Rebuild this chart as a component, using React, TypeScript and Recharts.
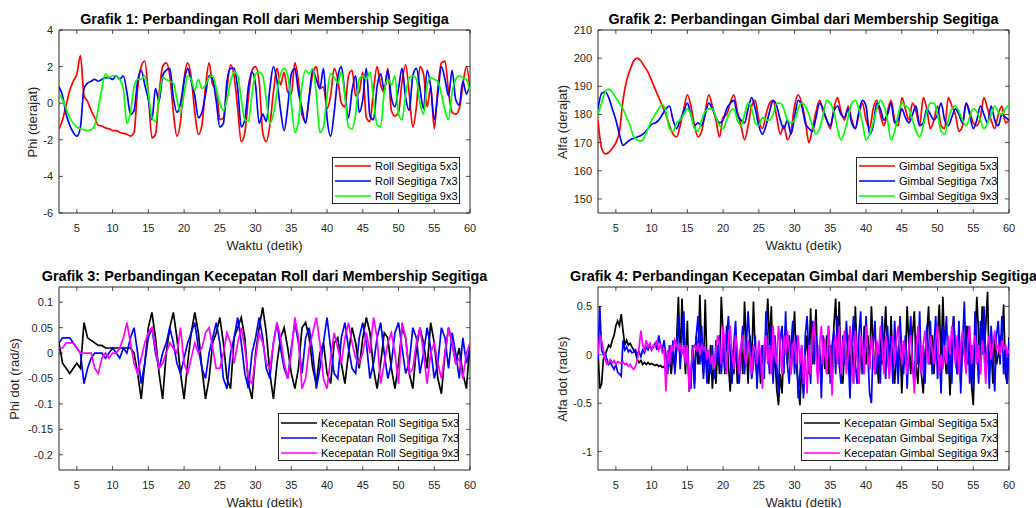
import { LineChart, Line, XAxis, YAxis, ReferenceArea } from "recharts"

// sample grids: 0.5 s for the angle / roll-rate logs, 0.25 s for the gimbal-rate log
const T_START = 2.5
const STEP_A = 0.5
const STEP_B = 0.25
const timeA = Array.from({ length: 116 }, (_, i) => T_START + i * STEP_A)
const timeB = Array.from({ length: 231 }, (_, i) => T_START + i * STEP_B)

const X_TICKS = [5, 10, 15, 20, 25, 30, 35, 40, 45, 50, 55, 60]
const ROLL_TICKS = [-6, -4, -2, 0, 2, 4]
const GIMBAL_TICKS = [150, 160, 170, 180, 190, 200, 210]
const ROLL_RATE_TICKS = [-0.2, -0.15, -0.1, -0.05, 0, 0.05, 0.1]
const GIMBAL_RATE_TICKS = [-1, -0.5, 0, 0.5]

// Grafik 1: roll (derajat)
const roll5x3 = [
  -1.4, -0.9, -0.1, 0.7, 1.2, 1.6, 2.6, 0.4, 0.1, -0.4,
  -0.8, -1.2, -1.25, -1.35, -1.4, -1.5, -1.5, -1.6, -1.65, -1.7,
  -1.8, -1.6, 0.8, 2.0, 2.3, 0.5, -1.9, -1.7, 0.5, 2.0,
  2.2, 1.5, -0.5, -1.8, -1.0, 1.3, 2.2, 1.4, -0.5, -1.7,
  -1.2, 0.9, 2.2, 1.0, 0.8, -0.9, -0.8, 0.8, 2.1, 1.5,
  -0.3, -2.1, -1.6, 0.3, 1.8, 2.0, 1.2, -1.6, -2.1, -1.2,
  0.6, 1.9, 1.0, 1.7, 0.6, 0.5, 2.2, 1.2, -0.6, -1.0,
  0.3, 1.6, 2.0, 0.8, 0.9, -0.3, 0.4, 1.9, 1.3, 0.0,
  -0.2, 1.5, 1.8, 0.4, 0.6, 1.7, -0.8, -1.0, 0.7, 2.0,
  1.0, 0.6, 1.9, -0.4, -0.7, -0.5, 1.2, 2.1, 0.5, -1.3,
  -0.2, 2.0, 1.6, -0.2, 0.9, -1.4, 0.8, 2.2, 2.3, 0.6,
  -0.5, -0.6, -0.3, 1.0, 2.0, 0.8,
]
const roll7x3 = [
  0.9, 0.4, -0.6, -1.2, -1.6, -1.8, -1.3, 0.8, 1.1, 1.2,
  1.3, 1.2, 1.3, 1.4, 1.4, 1.3, 1.5, 1.3, 1.5, 0.6,
  -0.6, -0.4, 1.2, 1.8, 1.0, 0.2, -0.9, 0.8, 0.1, 1.5,
  1.8, 1.9, 0.3, -0.5, 0.0, 1.2, 1.9, 1.2, 0.4, -0.8,
  -0.5, 0.5, 1.5, 1.3, 0.1, -1.3, -1.1, 1.2, 1.9, 1.9,
  0.8, -1.3, -0.9, 0.9, 1.7, 1.0, -1.1, -0.6, -1.0, 0.8,
  2.0, 1.2, -0.4, -1.5, -0.2, 1.6, 1.9, 0.6, -0.3, -1.1,
  0.4, 1.8, 1.3, 0.8, 1.9, -0.8, -1.8, -0.5, 1.4, 2.0,
  0.5, -0.8, 0.7, 1.5, -0.5, 0.2, 1.9, -0.7, -0.9, 0.9,
  1.6, 0.7, 1.8, 0.3, -0.2, 0.8, 1.9, 0.3, -0.4, 1.5,
  1.9, 0.8, -0.3, 1.8, 0.9, -0.9, 0.5, 2.0, 1.3, 0.4,
  1.8, 0.2, -0.1, 1.2, 0.5, 1.1,
]
const roll9x3 = [
  0.5, 0.2, -0.3, -0.8, -1.1, -1.3, -1.4, -1.45, -1.5, -1.45,
  -1.2, -0.3, 0.8, 1.6, 1.4, 1.5, 1.5, 1.3, 0.8, -1.1,
  -0.5, 0.9, 1.3, 1.3, 1.5, 0.5, -0.8, -1.0, 0.3, 1.4,
  1.3, 1.2, 1.1, 0.2, -0.5, 0.5, 1.5, 1.3, 0.7, 1.3,
  0.8, 1.0, 1.4, 1.5, 0.8, 0.0, -0.4, 0.2, 1.2, 1.7,
  1.5, 0.2, -0.9, -1.0, 0.5, 1.6, 1.7, 1.5, 0.2, -1.1,
  -0.6, 0.6, 1.6, 1.9, 1.5, 0.0, -1.6, -1.0, 1.0, 1.8,
  1.6, 1.9, 0.5, -1.6, -1.3, 0.4, 1.6, 1.4, 1.1, 1.7,
  0.4, -1.3, -1.4, -0.6, 1.3, 1.5, 1.3, 1.7, 0.2, -1.2,
  -1.3, 0.6, 1.3, 1.0, 1.5, -0.6, -0.9, 0.5, 1.4, 1.5,
  1.3, 0.0, -0.6, 1.0, 1.4, 1.3, 1.2, 0.5, -0.4, -0.9,
  0.6, 1.3, 1.5, 1.4, 1.3, 0.6,
]

// Grafik 2: gimbal (derajat)
const gimbal5x3 = [
  178, 168, 166, 166.5, 168, 170, 174, 185, 192, 196,
  199, 200, 199, 197, 195, 192, 189, 186, 183, 180,
  176, 173, 172, 176, 182, 187, 183, 176, 172, 174,
  181, 187, 183, 178, 172, 179, 180, 184, 187, 181,
  176, 171, 176, 183, 185, 178, 175, 180, 184, 185,
  179, 173, 176, 171, 174, 183, 187, 184, 178, 170,
  175, 181, 185, 181, 178, 175, 182, 186, 181, 178,
  183, 178, 175, 180, 184, 178, 175, 182, 185, 180,
  176, 181, 185, 178, 176, 186, 182, 178, 184, 181,
  176, 186, 182, 175, 178, 183, 176, 175, 186, 183,
  180, 174, 176, 184, 181, 177, 176, 179, 186, 182,
  178, 175, 180, 183, 177, 178,
]
const gimbal7x3 = [
  182, 187.5, 188, 186, 182, 178, 173, 169, 170, 171,
  171.5, 172, 172.5, 173.5, 175, 176.5, 177, 178, 180, 182,
  183, 178, 175, 178, 181, 184, 180, 176, 177, 176,
  180, 184, 182, 179, 177, 178, 182, 184, 185, 180,
  178, 177, 182, 186, 182, 176, 173, 176, 181, 185,
  183, 178, 175, 178, 173, 179, 185, 183, 177, 175,
  174, 179, 184, 182, 178, 176, 181, 183, 180, 179,
  182, 177, 175, 181, 185, 183, 173, 176, 184, 182,
  178, 180, 184, 177, 178, 182, 179, 177, 180, 183,
  176, 177, 182, 180, 178, 180, 184, 178, 176, 179,
  182, 180, 177, 184, 180, 175, 178, 183, 180, 177,
  183, 178, 176, 180, 179, 178,
]
const gimbal9x3 = [
  180, 184, 188, 189, 188, 186, 184, 182, 179, 176,
  172, 171, 170.5, 172, 175, 178, 180, 182, 183.5, 181,
  175, 174, 177, 178, 180, 182, 180, 175, 174, 178,
  181, 182, 182, 179, 176, 175, 178, 181, 182, 178,
  176, 180, 184, 182, 177, 176, 179, 178, 178, 180,
  184, 184, 182, 178, 177, 178, 182, 184, 183, 180,
  176, 173, 175, 180, 185, 184, 181, 175, 171, 174,
  179, 184, 185, 182, 177, 171, 173, 177, 182, 185,
  183, 178, 171, 174, 180, 184, 183, 182, 178, 174,
  172, 176, 181, 184, 184, 180, 174, 173, 178, 182,
  183, 181, 178, 176, 179, 182, 181, 178, 175, 177,
  180, 183, 181, 180, 182, 183.5,
]

// Grafik 3: kecepatan roll (rad/s)
const rollRate5x3 = [
  0.02, -0.02, -0.03, -0.04, -0.03, -0.02, -0.03, 0.06, 0.03, 0.025,
  0.02, 0.015, 0.015, 0.01, 0.01, 0.01, 0.01, 0.01, 0.01, 0.01,
  0.01, 0.0, -0.04, -0.09, -0.02, 0.05, 0.08, 0.03, -0.04, -0.09,
  0.0, 0.05, 0.08, 0.03, -0.04, -0.09, -0.02, 0.04, 0.08, 0.04,
  -0.03, -0.09, -0.05, 0.02, 0.04, 0.07, 0.02, -0.05, -0.07, 0.03,
  0.05, 0.07, 0.03, -0.06, -0.09, 0.0, 0.05, 0.09, 0.04, -0.04,
  -0.09, -0.02, 0.03, 0.05, 0.01, -0.04, -0.07, -0.03, 0.05, 0.06,
  0.03, -0.03, -0.06, 0.0, 0.02, -0.04, -0.06, 0.02, 0.03, -0.02,
  -0.06, 0.0, 0.05, 0.02, -0.03, 0.03, 0.07, 0.04, -0.03, -0.07,
  -0.02, 0.04, 0.03, -0.03, -0.07, -0.02, 0.05, 0.03, -0.04, -0.07,
  0.01, 0.05, 0.02, -0.03, 0.06, 0.02, -0.05, -0.08, 0.0, 0.05,
  0.02, -0.02, 0.01, -0.04, -0.07, 0.02,
]
const rollRate7x3 = [
  0.02, 0.03, 0.03, 0.03, 0.02, 0.01, 0.0, -0.06, -0.03, -0.01,
  0.0, 0.0, 0.0, -0.01, 0.0, 0.01, 0.0, -0.01, 0.01, 0.0,
  0.03, 0.05, 0.0, -0.06, -0.02, 0.03, 0.05, 0.0, -0.03, 0.0,
  0.02, 0.05, 0.02, -0.02, -0.04, -0.01, 0.02, 0.04, 0.06, 0.01,
  -0.03, -0.05, 0.0, 0.03, 0.06, 0.02, -0.05, -0.07, 0.0, 0.03,
  0.07, 0.02, -0.04, -0.07, 0.0, 0.03, 0.07, 0.03, -0.03, -0.05,
  0.02, 0.06, 0.01, -0.03, -0.05, 0.01, 0.06, 0.02, -0.04, 0.03,
  0.05, 0.0, -0.07, -0.03, 0.02, 0.07, 0.01, -0.04, -0.05, 0.03,
  0.06, 0.01, -0.03, -0.04, 0.03, 0.06, 0.02, -0.05, -0.02, 0.03,
  0.06, 0.0, -0.05, -0.02, 0.04, 0.06, 0.01, -0.04, -0.02, 0.05,
  0.03, -0.04, 0.0, 0.05, 0.01, -0.05, -0.02, 0.05, 0.03, -0.03,
  0.04, 0.0, -0.05, 0.03, -0.02, 0.01,
]
const rollRate9x3 = [
  0.01, 0.01, 0.02, 0.02, 0.02, 0.01, 0.0, 0.0, 0.0, 0.0,
  -0.03, -0.04, -0.01, 0.0, -0.01, 0.0, 0.0, 0.01, 0.03, 0.06,
  0.02, -0.02, -0.04, -0.01, 0.02, 0.04, 0.05, 0.01, -0.03, -0.02,
  0.0, 0.02, 0.01, 0.0, 0.05, -0.02, -0.04, -0.01, 0.02, 0.0,
  0.01, 0.04, 0.05, 0.01, -0.03, -0.03, 0.0, 0.04, 0.02, -0.02,
  0.02, 0.05, 0.01, -0.05, -0.06, -0.01, 0.04, 0.02, -0.02, -0.03,
  0.02, 0.06, 0.03, -0.02, -0.05, 0.0, 0.07, 0.03, -0.07, -0.05,
  0.01, 0.04, 0.07, 0.02, -0.05, -0.07, -0.01, 0.04, 0.01, -0.02,
  0.03, 0.06, 0.02, -0.01, -0.02, 0.0, 0.04, 0.0, 0.07, 0.03,
  -0.06, -0.02, 0.02, 0.04, 0.0, -0.06, 0.06, 0.03, -0.04, -0.03,
  0.02, 0.05, 0.0, -0.06, 0.0, 0.02, -0.02, -0.05, 0.0, 0.05,
  0.02, -0.02, -0.01, -0.05, 0.0, 0.02,
]

// Grafik 4: kecepatan gimbal (rad/s), 8 samples per row = 2 s
const gimbalRate5x3 = [
  0.05, -0.35, -0.3, -0.05, 0.0, 0.05, 0.1, 0.08,
  0.15, 0.2, 0.3, 0.35, 0.3, 0.42, 0.25, 0.1,
  0.15, 0.1, 0.12, 0.08, 0.05, 0.02, -0.05, -0.08,
  -0.06, -0.1, -0.08, -0.1, -0.08, -0.1, -0.09, -0.1,
  -0.11, -0.1, -0.12, -0.11, -0.13, -0.12, -0.15, -0.1,
  -0.05, -0.2, 0.05, -0.15, 0.15, 0.6, -0.1, 0.58,
  0.1, -0.2, 0.35, -0.38, -0.2, 0.1, -0.3, 0.2,
  -0.1, 0.62, 0.0, -0.2, 0.57, -0.1, -0.3, 0.1,
  -0.35, -0.05, -0.3, 0.1, -0.2, 0.6, 0.2, -0.2,
  0.3, -0.1, -0.38, 0.05, -0.2, 0.15, -0.3, -0.1,
  0.1, -0.2, 0.55, 0.1, -0.3, 0.2, -0.1, 0.55,
  0.0, -0.25, 0.05, -0.3, 0.1, -0.1, 0.2, 0.58,
  0.1, 0.5, -0.2, 0.0, -0.35, -0.52, -0.2, -0.4,
  0.1, 0.3, -0.1, 0.2, -0.2, 0.1, 0.45, -0.1,
  -0.3, -0.52, -0.1, -0.4, 0.0, 0.2, -0.2, 0.48,
  -0.1, 0.1, 0.47, -0.2, 0.0, -0.3, 0.1, -0.15,
  0.2, -0.2, 0.1, -0.3, 0.3, 0.58, 0.0, 0.55,
  -0.2, -0.3, 0.05, -0.1, 0.2, -0.2, 0.1, -0.3,
  0.5, 0.0, -0.3, 0.1, -0.2, 0.3, -0.1, 0.2,
  -0.15, 0.5, 0.1, -0.2, 0.05, -0.3, 0.2, -0.1,
  0.1, 0.5, 0.0, -0.2, 0.4, -0.1, -0.3, 0.1,
  -0.2, 0.2, -0.4, 0.05, -0.1, 0.5, 0.1, -0.2,
  0.2, 0.45, -0.1, -0.3, 0.1, -0.2, -0.4, 0.0,
  0.2, 0.5, -0.1, 0.2, -0.2, 0.1, 0.2, 0.52,
  -0.1, 0.6, 0.0, -0.2, 0.1, -0.42, 0.1, 0.4,
  0.0, -0.2, 0.1, -0.3, 0.2, 0.0, 0.3, -0.1,
  0.2, -0.3, -0.52, 0.1, 0.6, 0.2, -0.2, 0.5,
  0.0, 0.3, 0.65, -0.2, 0.1, -0.3, 0.2, -0.1,
  0.0, 0.2, 0.1, 0.52, -0.2, -0.3, 0.18,
]
const gimbalRate7x3 = [
  -0.05, 0.5, 0.05, 0.0, 0.02, -0.05, -0.1, -0.08,
  -0.12, -0.15, -0.1, -0.18, -0.2, -0.22, 0.15, 0.05,
  0.08, 0.03, 0.05, 0.02, 0.03, 0.05, 0.0, 0.03,
  -0.02, 0.05, 0.02, 0.08, 0.05, 0.1, 0.05, 0.08,
  0.12, 0.05, 0.2, 0.1, 0.05, 0.15, 0.0, -0.2,
  0.1, -0.1, 0.15, -0.2, 0.05, 0.4, -0.15, 0.2,
  0.45, -0.1, 0.1, -0.3, -0.35, 0.1, -0.35, 0.2,
  0.4, -0.1, 0.3, -0.25, 0.1, -0.3, 0.05, -0.2,
  0.1, -0.25, 0.15, -0.1, 0.2, -0.2, 0.1, -0.15,
  0.2, 0.4, 0.0, -0.3, 0.1, 0.35, -0.1, -0.3,
  0.05, 0.3, -0.2, 0.1, 0.45, 0.1, -0.25, -0.1,
  0.2, -0.35, 0.05, -0.2, 0.1, -0.25, 0.45, 0.1,
  -0.2, 0.3, -0.3, 0.2, -0.1, -0.4, 0.15, 0.3,
  -0.2, 0.45, -0.1, -0.3, 0.1, 0.35, -0.2, 0.2,
  -0.45, -0.2, 0.1, -0.45, 0.2, 0.4, 0.0, -0.3,
  0.35, -0.1, 0.2, -0.2, 0.1, -0.45, 0.2, 0.1,
  -0.2, 0.3, -0.3, 0.1, 0.25, -0.2, 0.4, -0.1,
  -0.3, 0.2, -0.1, 0.35, 0.0, -0.45, 0.1, 0.4,
  -0.1, -0.3, 0.2, 0.45, -0.2, -0.1, 0.4, 0.0,
  -0.4, -0.5, 0.1, 0.35, -0.2, 0.1, -0.3, 0.4,
  0.0, -0.25, 0.3, -0.1, 0.2, -0.3, 0.35, 0.0,
  -0.3, 0.4, 0.05, -0.2, 0.2, -0.35, 0.1, 0.4,
  -0.1, -0.3, 0.2, -0.1, 0.45, -0.2, 0.1, -0.3,
  0.3, -0.1, 0.35, -0.2, 0.1, 0.4, -0.25, 0.0,
  -0.4, 0.3, 0.1, 0.4, -0.2, 0.1, -0.3, 0.4,
  0.0, -0.2, 0.35, -0.4, 0.1, 0.55, -0.1, 0.3,
  -0.3, 0.1, -0.35, 0.45, 0.1, -0.3, 0.35, 0.0,
  0.5, -0.2, 0.1, -0.35, 0.3, 0.0, -0.38, 0.2,
  0.35, -0.1, 0.4, -0.2, 0.1, -0.3, 0.15,
]
const gimbalRate9x3 = [
  0.0, 0.2, 0.15, 0.05, -0.05, -0.1, -0.08, -0.05,
  -0.08, -0.06, -0.1, -0.07, -0.08, -0.09, -0.07, -0.1,
  -0.09, -0.12, -0.1, -0.13, -0.15, -0.12, -0.05, 0.08,
  0.25, 0.1, 0.05, 0.15, 0.08, 0.12, 0.05, 0.1,
  0.08, 0.15, 0.05, 0.1, 0.02, 0.05, -0.38, 0.05,
  -0.1, 0.1, 0.05, 0.15, 0.1, 0.05, 0.12, 0.0,
  0.1, -0.1, 0.1, -0.38, -0.15, 0.05, 0.1, 0.05,
  0.12, 0.0, 0.1, 0.05, 0.08, -0.05, 0.05, -0.1,
  0.0, -0.15, 0.05, 0.2, 0.1, -0.1, 0.3, 0.1,
  -0.2, 0.15, 0.3, 0.0, -0.15, 0.2, 0.05, -0.2,
  0.1, 0.2, 0.0, -0.1, 0.15, 0.0, -0.2, 0.1,
  0.05, -0.1, 0.15, 0.0, -0.35, 0.1, 0.2, -0.1,
  0.1, -0.2, 0.3, 0.0, -0.1, 0.3, 0.1, -0.2,
  0.2, 0.0, 0.25, 0.05, -0.2, 0.1, 0.15, -0.1,
  0.2, -0.1, 0.1, -0.3, 0.0, -0.4, 0.1, -0.2,
  0.2, 0.35, 0.0, -0.3, 0.1, 0.3, -0.1, 0.15,
  -0.2, 0.3, 0.0, -0.42, 0.1, 0.2, -0.1, 0.3,
  -0.2, 0.1, 0.25, -0.2, 0.0, 0.3, -0.1, -0.3,
  0.25, 0.0, -0.3, 0.2, 0.1, -0.2, 0.3, 0.0,
  -0.15, 0.2, 0.0, -0.2, 0.15, 0.0, 0.3, 0.1,
  -0.2, 0.2, 0.05, -0.25, 0.0, 0.2, -0.1, 0.15,
  0.3, 0.1, -0.1, 0.15, 0.0, -0.2, 0.1, 0.2,
  -0.1, -0.4, 0.0, 0.3, 0.1, -0.2, 0.1, 0.25,
  0.0, -0.1, 0.2, 0.05, -0.1, 0.15, 0.3, -0.2,
  0.0, -0.15, 0.1, -0.1, 0.2, 0.0, 0.3, 0.1,
  -0.1, 0.2, -0.2, 0.1, 0.25, 0.0, -0.2, 0.15,
  0.3, -0.1, 0.1, 0.2, -0.1, 0.1, -0.2, 0.15,
  0.0, -0.3, 0.1, 0.2, -0.05, 0.1, 0.25, 0.05,
  0.1, 0.0, 0.15, 0.05, 0.1, 0.0, 0.05,
]

const FONT = "Arial, 'Liberation Sans', Helvetica, sans-serif"
const AX = "#262626"

// every panel shares the same frame; the plot box sits at (59, 30), 411 x 183
const W = 518
const H = 254
const PX = 59
const PY = 30
const PW = 411
const PH = 183
const Y_AXIS_W = 40
const X_AXIS_H = 20
const TICK_LEN = 4

type Series = { name: string; color: string; values: number[] }

type PanelProps = {
  left: number
  top: number
  title: string
  yLabel: string
  yLabelX: number
  yDomain: [number, number]
  yTicks: number[]
  time: number[]
  curve: "linear" | "monotone"
  series: Series[]
  legend: { x: number; y: number; w: number; h: number; rows: number[] }
}

function XTick(props: any) {
  const { x, y, payload } = props
  return (
    <g>
      <line x1={x} x2={x} y1={PY + PH} y2={PY + PH - TICK_LEN} stroke={AX} strokeWidth={0.8} />
      <line x1={x} x2={x} y1={PY} y2={PY + TICK_LEN} stroke={AX} strokeWidth={0.8} />
      <text x={x} y={y} dy="0.71em" textAnchor="middle" fill={AX} fontSize={11} fontFamily={FONT}>
        {payload.value}
      </text>
    </g>
  )
}

function YTick(props: any) {
  const { x, y, payload } = props
  return (
    <g>
      <line x1={PX} x2={PX + TICK_LEN} y1={y} y2={y} stroke={AX} strokeWidth={0.8} />
      <line x1={PX + PW} x2={PX + PW - TICK_LEN} y1={y} y2={y} stroke={AX} strokeWidth={0.8} />
      <text x={x} y={y} dy="0.355em" textAnchor="end" fill={AX} fontSize={11} fontFamily={FONT}>
        {payload.value}
      </text>
    </g>
  )
}

function LegendBox({ x, y, w, h, rows, series }: PanelProps["legend"] & { series: Series[] }) {
  return (
    <div
      style={{
        position: "absolute",
        left: x,
        top: y,
        width: w,
        height: h,
        boxSizing: "border-box",
        border: `1px solid ${AX}`,
        background: "#fff",
      }}
    >
      <svg width={w} height={h} style={{ position: "absolute", left: -1, top: -1 }}>
        {series.map((s, i) => (
          <line key={s.name} x1={3} x2={39} y1={rows[i]} y2={rows[i]} stroke={s.color} strokeWidth={1.6} />
        ))}
      </svg>
      {series.map((s, i) => (
        <div
          key={s.name}
          style={{
            position: "absolute",
            left: 42,
            top: rows[i] - 9,
            height: 16,
            lineHeight: "16px",
            fontSize: 11,
            whiteSpace: "nowrap",
            color: "#000",
          }}
        >
          {s.name}
        </div>
      ))}
    </div>
  )
}

function Panel({ left, top, title, yLabel, yLabelX, yDomain, yTicks, time, curve, series, legend }: PanelProps) {
  const rows = time.map((t, i) => {
    const row: Record<string, number> = { t }
    series.forEach((s, k) => {
      row["s" + k] = s.values[i]
    })
    return row
  })
  const cx = PX + PW / 2
  const cy = PY + PH / 2

  return (
    <div style={{ position: "absolute", left, top, width: W, height: H, fontFamily: FONT }}>
      <LineChart
        width={W}
        height={H}
        data={rows}
        margin={{ top: PY, right: W - PX - PW, bottom: H - PY - PH - X_AXIS_H, left: PX - Y_AXIS_W }}
      >
        <XAxis
          type="number"
          dataKey="t"
          domain={[T_START, 60]}
          ticks={X_TICKS}
          interval={0}
          allowDataOverflow
          axisLine={false}
          tickLine={false}
          tickSize={0}
          tickMargin={11}
          height={X_AXIS_H}
          tick={(p: any) => <XTick {...p} />}
        />
        <YAxis
          type="number"
          domain={yDomain}
          ticks={yTicks}
          interval={0}
          allowDataOverflow
          axisLine={false}
          tickLine={false}
          tickSize={0}
          tickMargin={6}
          width={Y_AXIS_W}
          tick={(p: any) => <YTick {...p} />}
        />
        <ReferenceArea
          x1={T_START}
          x2={60}
          y1={yDomain[0]}
          y2={yDomain[1]}
          fill="none"
          stroke={AX}
          strokeWidth={1}
          ifOverflow="visible"
        />
        {series.map((s, k) => (
          <Line
            key={s.name}
            type={curve}
            dataKey={"s" + k}
            stroke={s.color}
            strokeWidth={1.7}
            dot={false}
            activeDot={false}
            isAnimationActive={false}
          />
        ))}
      </LineChart>

      <div
        style={{
          position: "absolute",
          left: cx - 300,
          top: 8.5,
          width: 600,
          height: 20,
          lineHeight: "20px",
          textAlign: "center",
          fontSize: 14.4,
          fontWeight: "bold",
          color: "#000",
          whiteSpace: "nowrap",
        }}
      >
        {title}
      </div>
      <div
        style={{
          position: "absolute",
          left: cx - 100,
          top: 235.5,
          width: 200,
          height: 20,
          lineHeight: "20px",
          textAlign: "center",
          fontSize: 13,
          color: AX,
        }}
      >
        Waktu (detik)
      </div>
      <div
        style={{
          position: "absolute",
          left: yLabelX - 100,
          top: cy - 10,
          width: 200,
          height: 20,
          lineHeight: "20px",
          textAlign: "center",
          fontSize: 13,
          color: AX,
          transform: "rotate(-90deg)",
          whiteSpace: "nowrap",
        }}
      >
        {yLabel}
      </div>
      <LegendBox {...legend} series={series} />
    </div>
  )
}

const LEGEND_ROWS_TOP = [9, 24, 39]
const LEGEND_ROWS_BOTTOM = [10, 25, 40]

export default function App() {
  return (
    <div
      style={{
        position: "absolute",
        left: 0,
        top: 0,
        width: 1036,
        height: 508,
        overflow: "hidden",
        background: "#fff",
      }}
    >
      <Panel
        left={0}
        top={0}
        title="Grafik 1: Perbandingan Roll dari Membership Segitiga"
        yLabel="Phi (derajat)"
        yLabelX={33}
        yDomain={[-6, 4]}
        yTicks={ROLL_TICKS}
        time={timeA}
        curve="monotone"
        series={[
          { name: "Roll Segitiga 5x3", color: "#ff0000", values: roll5x3 },
          { name: "Roll Segitiga 7x3", color: "#0000ff", values: roll7x3 },
          { name: "Roll Segitiga 9x3", color: "#00ff00", values: roll9x3 },
        ]}
        legend={{ x: 332, y: 157, w: 128, h: 47, rows: LEGEND_ROWS_TOP }}
      />
      <Panel
        left={539}
        top={0}
        title="Grafik 2: Perbandingan Gimbal dari Membership Segitiga"
        yLabel="Alfa (derajat)"
        yLabelX={24}
        yDomain={[145, 210]}
        yTicks={GIMBAL_TICKS}
        time={timeA}
        curve="monotone"
        series={[
          { name: "Gimbal Segitiga 5x3", color: "#ff0000", values: gimbal5x3 },
          { name: "Gimbal Segitiga 7x3", color: "#0000ff", values: gimbal7x3 },
          { name: "Gimbal Segitiga 9x3", color: "#00ff00", values: gimbal9x3 },
        ]}
        legend={{ x: 317, y: 157, w: 142, h: 47, rows: LEGEND_ROWS_TOP }}
      />
      <Panel
        left={0}
        top={257}
        title="Grafik 3: Perbandingan Kecepatan Roll dari Membership Segitiga"
        yLabel="Phi dot (rad/s)"
        yLabelX={15}
        yDomain={[-0.23, 0.13]}
        yTicks={ROLL_RATE_TICKS}
        time={timeA}
        curve="linear"
        series={[
          { name: "Kecepatan Roll Segitiga 5x3", color: "#000000", values: rollRate5x3 },
          { name: "Kecepatan Roll Segitiga 7x3", color: "#0000ff", values: rollRate7x3 },
          { name: "Kecepatan Roll Segitiga 9x3", color: "#ff00ff", values: rollRate9x3 },
        ]}
        legend={{ x: 278, y: 156, w: 181, h: 48, rows: LEGEND_ROWS_BOTTOM }}
      />
      <Panel
        left={539}
        top={257}
        title="Grafik 4: Perbandingan Kecepatan Gimbal dari Membership Segitiga"
        yLabel="Alfa dot (rad/s)"
        yLabelX={24}
        yDomain={[-1.19, 0.7]}
        yTicks={GIMBAL_RATE_TICKS}
        time={timeB}
        curve="linear"
        series={[
          { name: "Kecepatan Gimbal Segitiga 5x3", color: "#000000", values: gimbalRate5x3 },
          { name: "Kecepatan Gimbal Segitiga 7x3", color: "#0000ff", values: gimbalRate7x3 },
          { name: "Kecepatan Gimbal Segitiga 9x3", color: "#ff00ff", values: gimbalRate9x3 },
        ]}
        legend={{ x: 262, y: 156, w: 197, h: 48, rows: LEGEND_ROWS_BOTTOM }}
      />
    </div>
  )
}
